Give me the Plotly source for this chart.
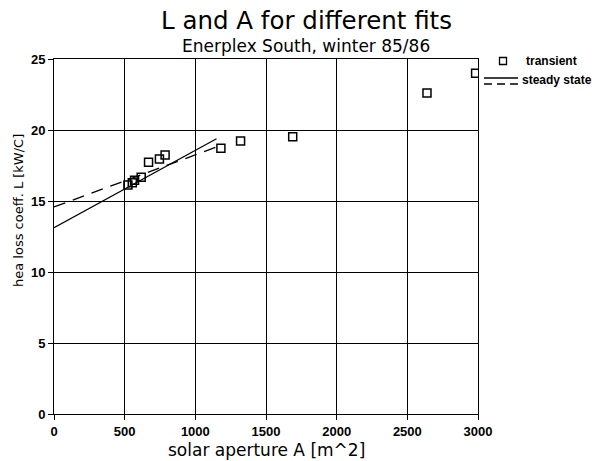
import plotly.graph_objects as go

# transient fit results
area_transient = [523, 554, 570, 617, 669, 746, 786, 1181, 1320, 1689, 2639, 2983]
loss_transient = [16.13, 16.29, 16.46, 16.67, 17.73, 17.96, 18.24, 18.72, 19.22, 19.53, 22.6, 24.0]

# steady state fits (end points of fitted lines)
area_steady_solid = [0, 1150]
loss_steady_solid = [13.12, 19.38]
area_steady_dashed = [0, 1150]
loss_steady_dashed = [14.58, 18.8]

x_ticks = [0, 500, 1000, 1500, 2000, 2500, 3000]
y_ticks = [0, 5, 10, 15, 20, 25]

W, H = 598, 461
L_M, R_M, T_M, B_M = 54, 120, 59, 47
pw = W - L_M - R_M
ph = H - T_M - B_M

def px(x):
    return (x - L_M) / pw

def py(y):
    return (H - B_M - y) / ph

FONT = "Liberation Sans, Arial, sans-serif"
WIDE = "DejaVu Sans, sans-serif"

fig = go.Figure()
fig.add_trace(go.Scatter(x=area_steady_solid, y=loss_steady_solid, mode="lines",
                         line=dict(color="black", width=1.3), showlegend=False))
fig.add_trace(go.Scatter(x=area_steady_dashed, y=loss_steady_dashed, mode="lines",
                         line=dict(color="black", width=1.3, dash="12px,8px"), showlegend=False))
fig.add_trace(go.Scatter(x=area_transient, y=loss_transient, mode="markers",
                         marker=dict(symbol="square-open", size=8, color="black",
                                     line=dict(width=1.5, color="black")),
                         showlegend=False))

axis_common = dict(showgrid=True, gridcolor="black", gridwidth=1, showline=True,
                   linecolor="black", linewidth=1, mirror=True, ticks="outside",
                   ticklen=5, tickcolor="black", zeroline=False,
                   tickfont=dict(family=FONT, size=13, color="black", weight="bold"))

fig.update_layout(
    width=W, height=H,
    margin=dict(l=L_M, r=R_M, t=T_M, b=B_M),
    paper_bgcolor="white", plot_bgcolor="white",
    showlegend=False,
    xaxis=dict(range=[0, 3000], tickvals=x_ticks, **axis_common),
    yaxis=dict(range=[0, 25], tickvals=y_ticks, **axis_common),
)

annotations = [
    dict(text="L and A for different fits", x=px(306), y=py(21), xref="paper", yref="paper",
         showarrow=False, xanchor="center", yanchor="middle",
         font=dict(family=WIDE, size=24.5, color="black")),
    dict(text="Enerplex South, winter 85/86", x=px(306), y=py(46), xref="paper", yref="paper",
         showarrow=False, xanchor="center", yanchor="middle",
         font=dict(family=WIDE, size=17, color="black")),
    dict(text="solar aperture A [m^2]", x=px(266), y=py(450), xref="paper", yref="paper",
         showarrow=False, xanchor="center", yanchor="middle",
         font=dict(family=WIDE, size=17, color="black")),
    dict(text="hea loss coeff. L [kW/C]", x=px(18), y=py(211), xref="paper", yref="paper",
         showarrow=False, xanchor="center", yanchor="middle", textangle=-90,
         font=dict(family=WIDE, size=13, color="black")),
    dict(text="transient", x=px(524), y=py(61), xref="paper", yref="paper",
         showarrow=False, xanchor="left", yanchor="middle",
         font=dict(family=FONT, size=12, color="black", weight="bold")),
    dict(text="steady state", x=px(520), y=py(80), xref="paper", yref="paper",
         showarrow=False, xanchor="left", yanchor="middle",
         font=dict(family=FONT, size=12, color="black", weight="bold")),
]
fig.update_layout(annotations=annotations)

shapes = [
    dict(type="rect", xref="paper", yref="paper", x0=px(499.5), x1=px(506.5),
         y0=py(64.5), y1=py(57.5), line=dict(color="black", width=1.3)),
    dict(type="line", xref="paper", yref="paper", x0=px(484), x1=px(518),
         y0=py(78), y1=py(78), line=dict(color="black", width=1.3)),
    dict(type="line", xref="paper", yref="paper", x0=px(484), x1=px(518),
         y0=py(84), y1=py(84), line=dict(color="black", width=1.3, dash="8px,5px")),
]
fig.update_layout(shapes=shapes)

fig.write_html("out.html", config={"displayModeBar": False},
               post_script="document.body.style.margin='0px';")
